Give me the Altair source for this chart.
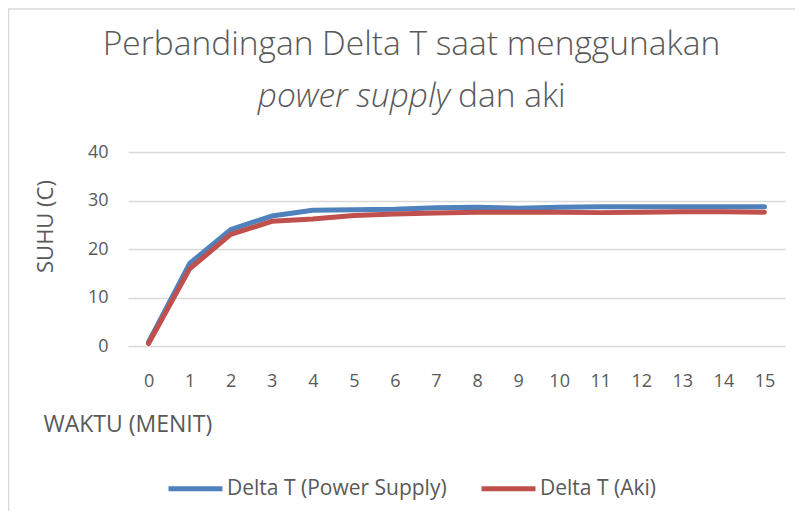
import altair as alt
import pandas as pd

waktu = list(range(16))
power_supply = [0.8, 17.0, 24.0, 26.8, 28.0, 28.1, 28.2, 28.5, 28.6, 28.4, 28.6, 28.7, 28.7, 28.7, 28.7, 28.7]
aki = [0.5, 15.9, 23.0, 25.7, 26.2, 26.9, 27.2, 27.4, 27.6, 27.6, 27.6, 27.5, 27.6, 27.7, 27.7, 27.6]
series_names = ["Delta T (Power Supply)", "Delta T (Aki)"]
series_colors = ["#4F81BD", "#C0504D"]
y_ticks = [0, 10, 20, 30, 40]

rows = []
for i, t in enumerate(waktu):
    rows.append({"t": t, "v": power_supply[i], "s": series_names[0], "o": 0})
for i, t in enumerate(waktu):
    rows.append({"t": t, "v": aki[i], "s": series_names[1], "o": 1})
df = pd.DataFrame(rows)

FONT = "Open Sans"
TXT = "#595959"
W, H = 657, 194

lines = alt.Chart(df).mark_line(strokeWidth=5, strokeCap="round", strokeJoin="round").encode(
    x=alt.X("t:Q", scale=alt.Scale(domain=[-0.5, 15.5], nice=False, zero=False),
            axis=alt.Axis(values=waktu, grid=False, domain=False, ticks=False, format="d",
                          labelFontSize=18, labelColor=TXT, labelFont=FONT, labelPadding=26,
                          title="WAKTU (MENIT)", titleFont=FONT, titleFontSize=23,
                          titleFontWeight="normal", titleColor=TXT, titleX=-85, titleY=78,
                          titleAlign="left", titleBaseline="middle")),
    y=alt.Y("v:Q", scale=alt.Scale(domain=[0, 40], nice=False),
            axis=alt.Axis(values=y_ticks, grid=True, gridColor="#D9D9D9", gridWidth=1.5,
                          domain=False, ticks=False, labelFontSize=18, labelColor=TXT,
                          labelFont=FONT, labelPadding=20,
                          title="SUHU (C)", titleFont=FONT, titleFontSize=22,
                          titleFontWeight="normal", titleColor=TXT, titleX=-83, titleY=74,
                          titleAngle=-90, titleBaseline="middle", titleAlign="center")),
    color=alt.Color("s:N", scale=alt.Scale(domain=series_names, range=series_colors),
                    legend=alt.Legend(title=None, orient="none", legendX=38, legendY=307,
                                      direction="horizontal", symbolType="stroke",
                                      symbolSize=2916, symbolStrokeWidth=5,
                                      labelFontSize=21, labelFont=FONT, labelColor=TXT,
                                      labelOffset=2, columnPadding=24, labelLimit=400)),
    order=alt.Order("o:Q"),
    detail="s:N",
)

one = pd.DataFrame({"k": [0]})
frame = alt.Chart(one).mark_rect(fill=None, stroke="#D9D9D9", strokeWidth=1.5).encode(
    x=alt.value(-119.5), y=alt.value(-143), x2=alt.value(W + 200), y2=alt.value(H + 300)
)

title1 = alt.Chart(one).mark_text(fontSize=33.5, font=FONT, fontWeight=300, color=TXT,
                                  align="center", baseline="middle").encode(
    x=alt.value(283.5), y=alt.value(-107), text=alt.value("Perbandingan Delta T saat menggunakan"))
title2a = alt.Chart(one).mark_text(fontSize=33.5, font=FONT, fontWeight=300, fontStyle="italic",
                                   color=TXT, align="right", baseline="middle").encode(
    x=alt.value(322), y=alt.value(-55), text=alt.value("power supply"))
title2b = alt.Chart(one).mark_text(fontSize=33.5, font=FONT, fontWeight=300, color=TXT,
                                   align="left", baseline="middle").encode(
    x=alt.value(330), y=alt.value(-55), text=alt.value("dan aki"))

chart = alt.layer(frame, lines, title1, title2a, title2b).properties(
    width=W, height=H,
    autosize=alt.AutoSizeParams(type="none"),
    padding={"left": 120, "top": 144, "right": 10, "bottom": 165},
).configure_view(stroke=None)

chart.save("out.html", embed_options={"renderer": "svg", "actions": False})
